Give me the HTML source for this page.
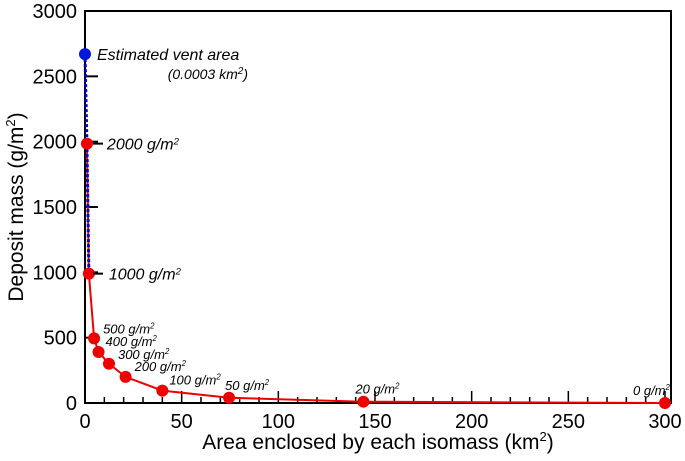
<!DOCTYPE html>
<html><head><meta charset="utf-8"><style>
body{margin:0;background:#fff;}
svg{display:block;font-family:"Liberation Sans",Arial,sans-serif;}
</style></head><body>
<svg id="chart" width="685" height="461" viewBox="0 0 685 461" xmlns="http://www.w3.org/2000/svg">
<g id="axes"></g>
<g id="marks"></g>
</svg>
<script>
const areas = [0.0003, 1, 2, 4.7, 7, 12.4, 21, 40, 74.5, 144, 300];
const masses = [2670, 1985, 990, 495, 390, 300, 200, 95, 40, 10, 0];
const labels = ["Estimated vent area", "2000 g/m", "1000 g/m", "500 g/m", "400 g/m", "300 g/m", "200 g/m", "100 g/m", "50 g/m", "20 g/m", "0 g/m"];
const xTicks = [0, 50, 100, 150, 200, 250, 300];
const yTicks = [0, 500, 1000, 1500, 2000, 2500, 3000];

const NS = "http://www.w3.org/2000/svg";
const X0 = 85, X1 = 665, Y0 = 403, Y1 = 11;
const xs = v => X0 + v / 300 * (X1 - X0);
const ys = v => Y0 - v / 3000 * (Y0 - Y1);
function mk(tag, attrs, parent, text) {
  const e = document.createElementNS(NS, tag);
  for (const k in attrs) e.setAttribute(k, attrs[k]);
  if (text !== undefined) e.textContent = text;
  parent.appendChild(e);
  return e;
}
const axes = document.getElementById('axes');
const marks = document.getElementById('marks');

const frame = mk('rect', {x: X0, y: Y1, width: 671 - X0, height: Y0 - Y1, fill: 'none', stroke: '#000', 'stroke-width': 2}, axes);



for (let v = 0; v <= 300; v += 10) {
  const major = v % 50 === 0;
  const t = mk('line', {x1: xs(v), x2: xs(v), y1: Y0, y2: Y0 - (major ? 12 : 6), stroke: '#000', 'stroke-width': 1.5}, axes);
  
  
}
xTicks.forEach(v => {
  const l = mk('text', {x: xs(v), y: 428, 'font-size': 20, 'text-anchor': 'middle'}, axes, v);
  
  
});
yTicks.forEach(v => {
  if (v > 0 && v < 3000) {
    const t = mk('line', {x1: X0, x2: X0 + 13, y1: ys(v), y2: ys(v), stroke: '#000', 'stroke-width': 2}, axes);
    
    
  }
  const l = mk('text', {x: 77, y: ys(v) + 7, 'font-size': 20, 'text-anchor': 'end'}, axes, v);
  
  
});
const xt = mk('text', {x: 378, y: 449, 'font-size': 21, 'text-anchor': 'middle'}, axes);
xt.innerHTML = 'Area enclosed by each isomass (km<tspan dy="-8" font-size="13">2</tspan><tspan dy="8">)</tspan>';


const yt = mk('text', {x: 0, y: 0, 'font-size': 21, 'text-anchor': 'middle', transform: 'translate(23,207) rotate(-90)'}, axes);
yt.innerHTML = 'Deposit mass (g/m<tspan dy="-8" font-size="13">2</tspan><tspan dy="8">)</tspan>';



const redPts = areas.slice(1).map((a, i) => xs(a) + ',' + ys(masses[i + 1])).join(' ');
const rl = mk('polyline', {points: redPts, fill: 'none', stroke: '#e00', 'stroke-width': 2}, marks);


const bl = mk('polyline', {points: areas.slice(0, 3).map((a, i) => xs(a) + ',' + ys(masses[i])).join(' '), fill: 'none', stroke: '#00c', 'stroke-width': 3, 'stroke-dasharray': '3,2'}, marks);



const lblOff = [[12,6,16],[20,6,16],[20,6,16],[9,-5,13],[7,-6,13],[9,-5,13],[9,-6,13],[7,-6,13],[-4,-8,13],[-8,-8,13],[-32,-8,13]];
areas.forEach((a, i) => {
  const c = mk('circle', {cx: xs(a), cy: ys(masses[i]), r: 6, fill: i === 0 ? '#0018d8' : '#e00'}, marks);
  
  
  const o = lblOff[i];
  const t = mk('text', {x: xs(a) + o[0], y: ys(masses[i]) + o[1], 'font-size': o[2], 'font-style': 'italic'}, marks);
  if (i === 0) {
    t.textContent = labels[0];
    const t2 = mk('text', {x: 248, y: ys(masses[i]) + 25, 'font-size': 14, 'font-style': 'italic', 'text-anchor': 'end'}, marks);
    t2.innerHTML = '(0.0003 km<tspan dy="-5" font-size="10">2</tspan><tspan dy="5">)</tspan>';
    
    
  } else {
    t.innerHTML = labels[i] + '<tspan dy="-5" font-size="' + (o[2] * 0.6) + '">2</tspan>';
  }
  
  
});
[1985, 990].forEach(v => {
  const t = mk('line', {x1: 93, x2: 103, y1: ys(v), y2: ys(v), stroke: '#000', 'stroke-width': 2}, marks);
  
  
});
</script>
</body></html>
